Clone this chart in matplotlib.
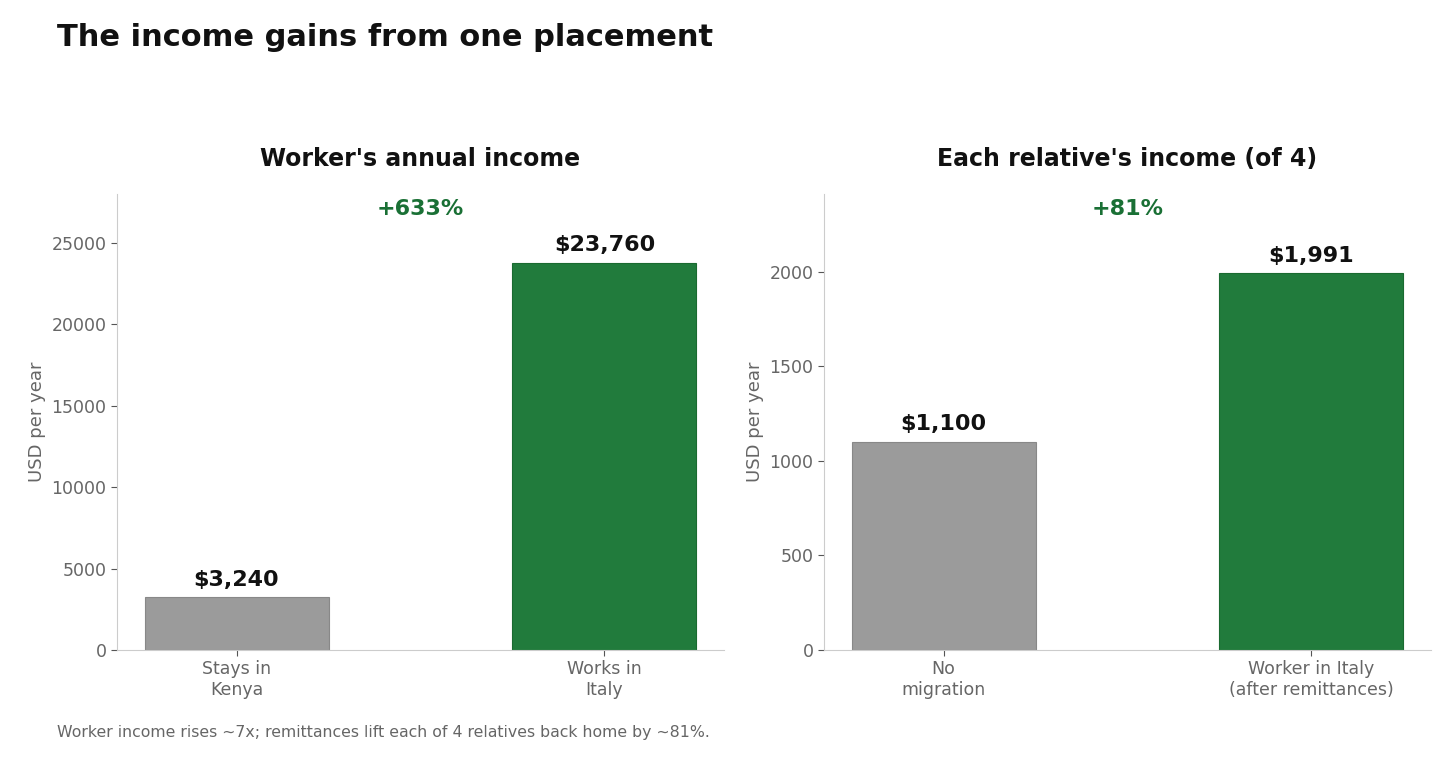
import matplotlib.pyplot as plt

plt.rcParams['font.family'] = ['DejaVu Sans']

# worker's annual income
worker_labels = ['Stays in\nKenya', 'Works in\nItaly']
worker_values = [3240, 23760]
worker_change = '+633%'

# income of each relative
relative_labels = ['No\nmigration', 'Worker in Italy\n(after remittances)']
relative_values = [1100, 1991]
relative_change = '+81%'

GRAY = '#9b9b9b'
GREEN = '#217b3c'
TEXT_GRAY = '#666666'
SPINE = '#cccccc'


def bar_panel(ax, labels, values, change, title, ymax):
    x = range(len(values))
    ax.bar(x, values, width=0.5, color=[GRAY, GREEN],
           edgecolor=['#888888', '#1a6a30'], linewidth=0.8)
    for xi, v in zip(x, values):
        ax.annotate('$' + format(v, ','), (xi, v), xytext=(0, 5.5),
                    textcoords='offset points', ha='center', va='bottom',
                    fontsize=16, fontweight='bold', color='#111111')
    ax.text(0.5, 0.968, change, transform=ax.transAxes, ha='center',
            va='center', fontsize=16, fontweight='bold', color='#1a7035')
    ax.set_xticks(list(x))
    ax.set_xticklabels(labels)
    ax.set_ylim(0, ymax)
    ax.set_title(title, fontsize=17, fontweight='bold', color='#111111', pad=20)
    ax.set_ylabel('USD per year', fontsize=13, color=TEXT_GRAY)
    for s in ['top', 'right']:
        ax.spines[s].set_visible(False)
    for s in ['left', 'bottom']:
        ax.spines[s].set_color(SPINE)
    ax.tick_params(colors=TEXT_GRAY, labelsize=12.5, length=4)
    ax.tick_params(axis='both', color='#555555')


fig = plt.figure(figsize=(14.56, 7.65), dpi=100)
ax1 = fig.add_axes([117 / 1456, 1 - 650 / 765, 607 / 1456, 456 / 765])
ax2 = fig.add_axes([824 / 1456, 1 - 650 / 765, 607 / 1456, 456 / 765])

bar_panel(ax1, worker_labels, worker_values, worker_change,
          "Worker's annual income", 28000)
bar_panel(ax2, relative_labels, relative_values, relative_change,
          "Each relative's income (of 4)", 2410)

fig.text(57 / 1456, 1 - 38 / 765, 'The income gains from one placement',
         fontsize=22, fontweight='bold', color='#111111', va='center')
fig.text(57 / 1456, 1 - 732 / 765,
         'Worker income rises ~7x; remittances lift each of 4 relatives back home by ~81%.',
         fontsize=11.3, color=TEXT_GRAY, va='center')

fig.savefig('out.png', dpi=100)
